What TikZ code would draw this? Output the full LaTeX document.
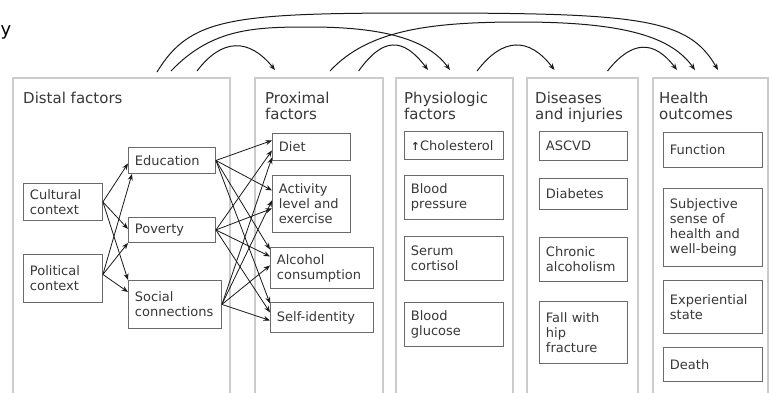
\documentclass[tikz,border=0pt]{standalone}
\usepackage{fontspec}
\setmainfont{DejaVu Sans}
\usetikzlibrary{arrows.meta,calc}
\definecolor{panelc}{HTML}{CCCCCC}
\definecolor{boxc}{HTML}{6A6A6A}
\definecolor{txtc}{HTML}{383838}
\definecolor{arrc}{HTML}{1A1A1A}
\newcommand\putbox[7]{\node[bx, minimum width=#4pt, minimum height=#5pt, text width=#6pt] (#1) at (#2,#3) {#7};}
\begin{document}
\begin{tikzpicture}[x=1pt,y=-1pt,
  panel/.style={draw=panelc, line width=2pt},
  bx/.style={draw=boxc, line width=0.9pt, anchor=north west, align=left, inner xsep=6.5pt, inner ysep=1pt, text=txtc, font=\fontsize{13}{15}\selectfont},
  ttl/.style={anchor=north west, inner sep=0pt, align=left, text=txtc, font=\fontsize{15}{16}\selectfont},
  arr/.style={draw=arrc, line width=0.8pt, -{Stealth[length=6.5pt,width=5pt]}},
  arcarr/.style={arr, line width=1pt}
]
\useasboundingbox[fill=white] (0,0) rectangle (771,392);

% panels
\draw[panel] (13,396) -- (13,78) -- (230,78) -- (230,396);
\draw[panel] (255,396) -- (255,78) -- (383,78) -- (383,396);
\draw[panel] (396,396) -- (396,78) -- (513,78) -- (513,396);
\draw[panel] (527,396) -- (527,78) -- (638,78) -- (638,396);
\draw[panel] (653,396) -- (653,78) -- (768,78) -- (768,396);

% title fragment at the top-left corner
\node[anchor=base west, inner sep=0pt, font=\fontsize{18}{18}\selectfont] (ycut) at (0.5,35) {y};

% titles
\node[ttl] (tdist) at (23,92) {Distal factors};
\node[ttl] (tprox) at (265,92) {Proximal\\factors};
\node[ttl] (tphys) at (404,92) {Physiologic\\factors};
\node[ttl] (tdis) at (535,92) {Diseases\\and injuries};
\node[ttl] (thealth) at (659,92) {Health\\outcomes};

% boxes
\putbox{edu}{128}{147}{87}{26}{74}{Education}
\putbox{cul}{23}{183}{79}{37}{66}{Cultural\\context}
\putbox{pov}{128}{217}{87}{25}{74}{Poverty}
\putbox{pol}{23}{254}{79}{48}{66}{Political\\context}
\putbox{soc}{128}{280}{92}{48}{80}{Social\\connections}
\putbox{diet}{272}{133}{78}{27}{65}{Diet}
\putbox{act}{272}{175}{78}{57}{65}{Activity\\level and\\exercise}
\putbox{alc}{270}{247}{103}{41}{90}{Alcohol\\consumption}
\putbox{self}{270}{302}{103}{30}{90}{Self-identity}
\putbox{chol}{404}{131}{99}{28}{86}{{\fontsize{11}{11}\selectfont\bfseries ↑}Cholesterol}
\putbox{bp}{404}{175}{99}{44}{86}{Blood\\pressure}
\putbox{cort}{404}{236}{99}{44}{86}{Serum\\cortisol}
\putbox{gluc}{404}{302}{99}{44}{86}{Blood\\glucose}
\putbox{ascvd}{539}{131}{88}{29}{75}{ASCVD}
\putbox{diab}{539}{178}{88}{31}{75}{Diabetes}
\putbox{chron}{539}{237}{88}{44}{75}{Chronic\\alcoholism}
\putbox{fall}{539}{301}{88}{62}{75}{Fall with\\hip\\fracture}
\putbox{func}{663}{132}{99}{35}{86}{Function}
\putbox{subj}{663}{188}{99}{78}{86}{Subjective\\sense of\\health and\\well-being}
\putbox{expst}{663}{280}{99}{53}{86}{Experiential\\state}
\putbox{death}{663}{347}{99}{34}{86}{Death}

% distal arrows
\coordinate (pols) at ($(pol.east)+(0,-4)$);
\draw[arr] (cul.east) -- ($(edu.west)+(0,3)$);
\draw[arr] (pols) -- ($(edu.south west)+(4,0)$);
\draw[arr] (cul.east) -- ($(pov.west)+(0,-1)$);
\draw[arr] (pols) -- (pov.south west);
\draw[arr] (cul.east) -- (soc.north west);
\draw[arr] (pols) -- ($(soc.north west)+(0,12)$);

% fan to proximal
\draw[arr] (edu.east) -- ($(diet.west)+(0,-6.5)$);
\draw[arr] (edu.east) -- ($(act.west)+(0,-13.5)$);
\draw[arr] (edu.east) -- ($(alc.west)+(0,-18.5)$);
\draw[arr] (edu.east) -- ($(self.west)+(0,-14)$);
\draw[arr] (pov.east) -- ($(diet.west)+(0,3.5)$);
\draw[arr] (pov.east) -- ($(act.west)+(0,4.5)$);
\draw[arr] (pov.east) -- ($(alc.west)+(0,-11.5)$);
\draw[arr] (pov.east) -- ($(self.west)+(0,-5)$);
\draw[arr] (soc.east) -- ($(diet.west)+(0,10.5)$);
\draw[arr] (soc.east) -- ($(act.west)+(0,-3.5)$);
\draw[arr] (soc.east) -- ($(alc.west)+(0,-2.5)$);
\draw[arr] (soc.east) -- ($(self.west)+(0,3)$);

% top arcs
\coordinate (aS) at (157,72);   \coordinate (aE) at (718,70);
\coordinate (bS) at (171,71);   \coordinate (bE) at (450,70);
\coordinate (cS) at (197,71);   \coordinate (cE) at (275,70);
\coordinate (dS) at (330,71);   \coordinate (dE) at (695,70);
\coordinate (eS) at (358.6,71); \coordinate (eE) at (428,70);
\coordinate (fS) at (477,71);   \coordinate (fE) at (554.5,70);
\coordinate (gS) at (607.5,71); \coordinate (gE) at (677,70);
\draw[arcarr] (aS) .. controls (190,18) and (230,13) .. (420,13) .. controls (640,13) and (688,18) .. (aE);
\draw[arcarr] (bS) .. controls (212,28) and (255,27) .. (310,27) .. controls (385,27) and (428,40) .. (bE);
\draw[arcarr] (dS) .. controls (368,30) and (430,22) .. (520,22) .. controls (628,22) and (672,38) .. (dE);
\draw[arcarr] (cS) .. controls (222,38) and (249,38) .. (cE);
\draw[arcarr] (eS) .. controls (383,37) and (403,37) .. (eE);
\draw[arcarr] (fS) .. controls (503,37) and (529,37) .. (fE);
\draw[arcarr] (gS) .. controls (632,40) and (654,40) .. (gE);
\end{tikzpicture}
\end{document}
